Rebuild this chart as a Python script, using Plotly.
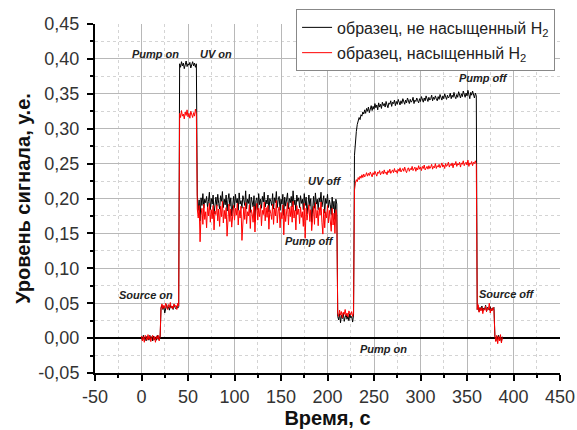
import plotly.graph_objects as go

# ---------------- data ----------------
t_start = 0
t_end = 388
time_s = list(range(t_start, t_end + 1))

black_src_off = [0.002, -0.003, 0.004, -0.002, 0.001, -0.004, 0.003, 0.000, -0.003, 0.004,
                 -0.001, 0.002, -0.004, 0.003, -0.002, 0.001, -0.003, 0.004, -0.002, 0.002, 0.000]
black_src_on = [0.043, 0.047, 0.041, 0.046, 0.036, 0.044, 0.048, 0.042, 0.045, 0.040,
                0.047, 0.043, 0.046, 0.041, 0.048, 0.044, 0.042, 0.046, 0.043, 0.045]
black_pump_on = [0.393, 0.388, 0.396, 0.390, 0.394, 0.386, 0.392, 0.397, 0.389, 0.393,
                 0.391, 0.395, 0.387, 0.392, 0.396, 0.390, 0.394, 0.388, 0.393]
black_uv_on = [
    0.205, 0.183, 0.198, 0.168, 0.201, 0.190, 0.207, 0.186, 0.199, 0.194,
    0.203, 0.188, 0.196, 0.209, 0.184, 0.200, 0.192, 0.205, 0.178, 0.197,
    0.202, 0.189, 0.206, 0.193, 0.185, 0.204, 0.196, 0.210, 0.187, 0.199,
    0.191, 0.205, 0.182, 0.198, 0.207, 0.189, 0.201, 0.175, 0.196, 0.203,
    0.187, 0.206, 0.194, 0.200, 0.183, 0.208, 0.192, 0.197, 0.186, 0.204,
    0.198, 0.190, 0.211, 0.185, 0.199, 0.193, 0.206, 0.180, 0.202, 0.195,
    0.188, 0.204, 0.167, 0.197, 0.201, 0.184, 0.207, 0.191, 0.199, 0.186,
    0.203, 0.195, 0.209, 0.188, 0.198, 0.192, 0.205, 0.181, 0.200, 0.196,
    0.190, 0.207, 0.185, 0.201, 0.194, 0.210, 0.187, 0.198, 0.203, 0.183,
    0.199, 0.192, 0.206, 0.176, 0.202, 0.189, 0.197, 0.208, 0.185, 0.200,
    0.194, 0.203, 0.188, 0.211, 0.191, 0.198, 0.182, 0.205, 0.196, 0.201,
    0.187, 0.204, 0.193, 0.199, 0.184, 0.207, 0.190, 0.202, 0.178, 0.197,
    0.205, 0.189, 0.200, 0.166, 0.196, 0.203, 0.186, 0.208, 0.192, 0.199,
    0.184, 0.201, 0.195, 0.209, 0.188, 0.197, 0.204, 0.179, 0.200, 0.193,
    0.206, 0.187, 0.198, 0.191, 0.177, 0.202, 0.185, 0.196, 0.170, 0.199,
    0.192]
black_pump_off = [0.031, 0.026, 0.035, 0.022, 0.033, 0.028, 0.036, 0.024, 0.030, 0.034,
                  0.027, 0.032, 0.025, 0.035, 0.029, 0.031, 0.023, 0.033]
black_pump_on2 = [
    0.262, 0.283, 0.296, 0.306, 0.310, 0.316, 0.313, 0.320, 0.318, 0.324,
    0.321, 0.327, 0.322, 0.329, 0.325, 0.331, 0.323, 0.328, 0.333, 0.326,
    0.332, 0.328, 0.336, 0.330, 0.334, 0.327, 0.337, 0.331, 0.335, 0.329,
    0.338, 0.333, 0.336, 0.331, 0.339, 0.334, 0.330, 0.337, 0.335, 0.340,
    0.332, 0.338, 0.336, 0.341, 0.333, 0.339, 0.335, 0.342, 0.337, 0.334,
    0.340, 0.336, 0.343, 0.338, 0.335, 0.341, 0.337, 0.344, 0.339, 0.336,
    0.342, 0.338, 0.340, 0.345, 0.336, 0.341, 0.339, 0.344, 0.340, 0.337,
    0.343, 0.339, 0.346, 0.341, 0.338, 0.344, 0.340, 0.347, 0.342, 0.339,
    0.345, 0.341, 0.343, 0.348, 0.340, 0.345, 0.342, 0.347, 0.343, 0.340,
    0.346, 0.342, 0.349, 0.344, 0.341, 0.347, 0.343, 0.350, 0.345, 0.342,
    0.348, 0.344, 0.346, 0.351, 0.343, 0.348, 0.345, 0.352, 0.346, 0.343,
    0.349, 0.345, 0.353, 0.347, 0.344, 0.350, 0.346, 0.354, 0.348, 0.345,
    0.351, 0.347, 0.355, 0.349, 0.343, 0.352, 0.348, 0.354, 0.350, 0.344,
    0.351, 0.347]
black_pump_off2 = [0.041, 0.045, 0.038, 0.044, 0.040, 0.046, 0.039, 0.043, 0.041, 0.047,
                   0.038, 0.044, 0.042, 0.040, 0.045, 0.039, 0.043, 0.041, 0.044]
black_src_off2 = [0.002, -0.004, 0.003, -0.002, 0.004, -0.003, 0.001, -0.005, 0.002]

red_src_off = [0.003, -0.004, 0.002, -0.006, 0.004, 0.000, -0.003, 0.005, -0.002, 0.003,
               -0.005, 0.001, 0.004, -0.003, 0.002, -0.006, 0.003, -0.001, 0.004, -0.004, 0.002]
red_src_on = [0.044, 0.049, 0.042, 0.047, 0.043, 0.050, 0.045, 0.041, 0.048, 0.044,
              0.051, 0.043, 0.046, 0.042, 0.049, 0.045, 0.047, 0.041, 0.050, 0.046]
red_pump_on = [0.322, 0.316, 0.326, 0.318, 0.321, 0.314, 0.324, 0.319, 0.327, 0.317,
               0.322, 0.315, 0.325, 0.320, 0.316, 0.323, 0.318, 0.328, 0.321]
red_uv_on = [
    0.185, 0.172, 0.190, 0.138, 0.176, 0.186, 0.163, 0.192, 0.170, 0.181,
    0.158, 0.188, 0.175, 0.193, 0.166, 0.184, 0.171, 0.190, 0.155, 0.182,
    0.177, 0.191, 0.168, 0.185, 0.160, 0.189, 0.174, 0.196, 0.165, 0.183,
    0.171, 0.187, 0.146, 0.180, 0.192, 0.167, 0.185, 0.159, 0.178, 0.190,
    0.169, 0.186, 0.176, 0.193, 0.162, 0.183, 0.172, 0.189, 0.140, 0.179,
    0.188, 0.170, 0.194, 0.164, 0.181, 0.175, 0.191, 0.157, 0.184, 0.178,
    0.166, 0.189, 0.152, 0.182, 0.193, 0.169, 0.186, 0.174, 0.191, 0.161,
    0.183, 0.177, 0.195, 0.168, 0.187, 0.173, 0.190, 0.156, 0.184, 0.179,
    0.170, 0.192, 0.163, 0.186, 0.175, 0.197, 0.165, 0.182, 0.188, 0.158,
    0.180, 0.171, 0.191, 0.148, 0.185, 0.167, 0.179, 0.194, 0.162, 0.187,
    0.174, 0.189, 0.166, 0.196, 0.172, 0.183, 0.155, 0.190, 0.177, 0.185,
    0.164, 0.188, 0.173, 0.181, 0.160, 0.193, 0.143, 0.186, 0.169, 0.180,
    0.191, 0.167, 0.184, 0.154, 0.179, 0.189, 0.163, 0.194, 0.172, 0.183,
    0.161, 0.187, 0.176, 0.195, 0.166, 0.149, 0.185, 0.158, 0.181, 0.172,
    0.190, 0.165, 0.183, 0.171, 0.153, 0.186, 0.162, 0.179, 0.150, 0.184,
    0.175]
red_pump_off = [0.036, 0.031, 0.040, 0.033, 0.038, 0.029, 0.037, 0.034, 0.041, 0.032,
                0.036, 0.030, 0.039, 0.035, 0.033, 0.038, 0.031, 0.036]
red_pump_on2 = [
    0.212, 0.222, 0.227, 0.224, 0.230, 0.227, 0.232, 0.229, 0.234, 0.230,
    0.235, 0.231, 0.233, 0.237, 0.232, 0.236, 0.233, 0.238, 0.234, 0.231,
    0.237, 0.234, 0.239, 0.235, 0.232, 0.238, 0.236, 0.240, 0.234, 0.237,
    0.239, 0.235, 0.241, 0.236, 0.238, 0.234, 0.240, 0.237, 0.242, 0.236,
    0.239, 0.241, 0.237, 0.243, 0.238, 0.240, 0.236, 0.242, 0.239, 0.244,
    0.238, 0.241, 0.243, 0.239, 0.245, 0.240, 0.237, 0.242, 0.244, 0.239,
    0.243, 0.241, 0.246, 0.240, 0.242, 0.245, 0.239, 0.244, 0.241, 0.247,
    0.242, 0.245, 0.240, 0.246, 0.243, 0.248, 0.241, 0.244, 0.246, 0.242,
    0.247, 0.243, 0.245, 0.249, 0.242, 0.246, 0.244, 0.250, 0.243, 0.247,
    0.245, 0.249, 0.244, 0.247, 0.251, 0.245, 0.248, 0.243, 0.250, 0.246,
    0.248, 0.252, 0.245, 0.249, 0.247, 0.251, 0.244, 0.250, 0.248, 0.253,
    0.246, 0.250, 0.248, 0.252, 0.245, 0.251, 0.249, 0.254, 0.247, 0.250,
    0.252, 0.248, 0.255, 0.246, 0.251, 0.249, 0.253, 0.247, 0.252, 0.250,
    0.254, 0.249]
red_pump_off2 = [0.041, 0.048, 0.037, 0.043, 0.039, 0.044, 0.035, 0.042, 0.040, 0.046,
                 0.038, 0.043, 0.041, 0.050, 0.036, 0.042, 0.039, 0.044, 0.040]
red_src_off2 = [0.003, -0.005, 0.004, -0.008, 0.002, -0.004, 0.005, -0.007, 0.001]

black_signal = (black_src_off + black_src_on + black_pump_on + black_uv_on +
                black_pump_off + black_pump_on2 + black_pump_off2 + black_src_off2)
red_signal = (red_src_off + red_src_on + red_pump_on + red_uv_on +
              red_pump_off + red_pump_on2 + red_pump_off2 + red_src_off2)

series_names = ["образец, не насыщенный H<sub>2</sub>", "образец, насыщенный H<sub>2</sub>"]

x_tickvals = [-50, 0, 50, 100, 150, 200, 250, 300, 350, 400, 450]
x_ticktext = ["-50", "0", "50", "100", "150", "200", "250", "300", "350", "400", "450"]
y_tickvals = [-0.05, 0.0, 0.05, 0.10, 0.15, 0.20, 0.25, 0.30, 0.35, 0.40, 0.45]
y_ticktext = ["-0,05", "0,00", "0,05", "0,10", "0,15", "0,20", "0,25", "0,30", "0,35", "0,40", "0,45"]

ann_text = ["Pump on", "UV on", "Source on", "UV off", "Pump off", "Pump on", "Pump off", "Source off"]
ann_x = [15.5, 80.5, 4.5, 197, 181, 260, 367.5, 393.5]
ann_y = [0.407, 0.407, 0.062, 0.225, 0.139, -0.016, 0.373, 0.063]

# ---------------- figure ----------------
FONT = "Liberation Sans, Arial, sans-serif"
fig = go.Figure()
fig.add_trace(go.Scatter(x=time_s, y=black_signal, mode="lines", name=series_names[0],
                         legendgroup="a", line=dict(color="#000000", width=1)))
fig.add_trace(go.Scatter(x=time_s, y=red_signal, mode="lines", name=series_names[1],
                         legendgroup="b", line=dict(color="#ff0000", width=1)))

for txt, ax_, ay_ in zip(ann_text, ann_x, ann_y):
    fig.add_annotation(x=ax_, y=ay_, text=txt, showarrow=False,
                       font=dict(family=FONT, size=11, color="#222222",
                                 weight="bold", style="italic"))

fig.update_layout(
    width=577, height=430,
    margin=dict(l=95, r=17, t=24, b=57, autoexpand=False),
    paper_bgcolor="white", plot_bgcolor="white",
    font=dict(family=FONT, color="#333333"),
    showlegend=True,
    legend=dict(xref="container", yref="container", x=0.962, y=0.978,
                xanchor="right", yanchor="top",
                bgcolor="white", bordercolor="#888888", borderwidth=1,
                font=dict(family=FONT, size=16, color="#222222"),
                itemwidth=30, tracegroupgap=1.5, traceorder="grouped"),
)
fig.update_xaxes(
    range=[-50, 450], tickmode="array", tickvals=x_tickvals, ticktext=x_ticktext,
    automargin=False,
    ticks="outside", ticklen=6, tickwidth=1.5, tickcolor="black",
    showline=True, linecolor="black", linewidth=2,
    showgrid=True, gridcolor="#b8b8b8", gridwidth=1, zeroline=False,
    tickfont=dict(size=18, color="#333333"),
    minor=dict(tickmode="linear", tick0=0, dtick=25, ticks="outside", ticklen=3,
               tickcolor="black", showgrid=True, gridcolor="#d4d4d4", griddash="dot"),
    title=dict(text="<b>Время, с</b>", font=dict(size=20, color="#111111"), standoff=2),
)
fig.update_yaxes(
    range=[-0.05, 0.45], tickmode="array", tickvals=y_tickvals, ticktext=y_ticktext,
    automargin=False, ticklabelstandoff=4,
    ticks="outside", ticklen=6, tickwidth=1.5, tickcolor="black",
    showline=True, linecolor="black", linewidth=2,
    showgrid=True, gridcolor="#b8b8b8", gridwidth=1,
    zeroline=True, zerolinecolor="black", zerolinewidth=2,
    tickfont=dict(size=18, color="#333333"),
    minor=dict(tickmode="linear", tick0=0, dtick=0.025, ticks="outside", ticklen=3,
               tickcolor="black", showgrid=True, gridcolor="#d4d4d4", griddash="dot"),
    title=dict(text="<b>Уровень сигнала, у.е.</b>", font=dict(size=20, color="#111111"), standoff=2),
)

fig.write_html("out.html", config={"displayModeBar": False},
               post_script="document.body.style.margin='0';")
